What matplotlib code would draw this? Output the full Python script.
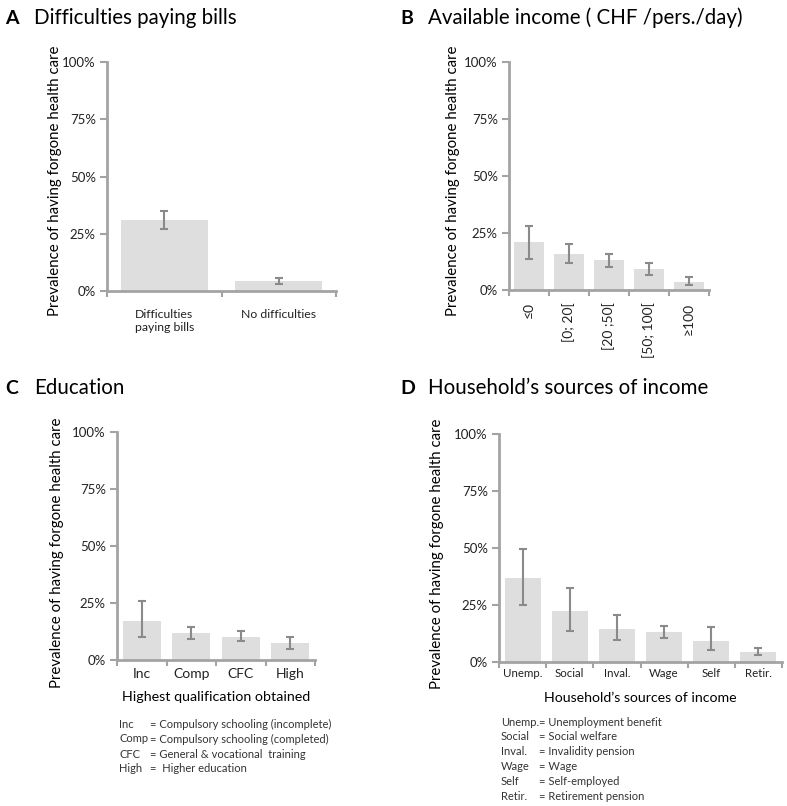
import matplotlib
matplotlib.use('Agg')
from matplotlib import pyplot as plt
from matplotlib.ticker import FixedLocator
import numpy as np

plt.rcParams['font.family'] = ['Lato', 'DejaVu Sans']

# %% Data (in %)

bills_labels = ['Difficulties\npaying bills', 'No difficulties']
bills_val = [31, 4.4]
bills_lo = [27, 3]
bills_hi = [35, 5.7]

income_labels = ['≤0', '[0; 20[', '[20 ;50[', '[50; 100[', '≥100']
income_val = [21, 16, 13, 9, 3.5]
income_lo = [13.6, 12, 10, 6.5, 2]
income_hi = [28, 20, 16, 12, 5.7]

edu_labels = ['Inc', 'Comp', 'CFC', 'High']
edu_val = [17, 12, 10, 7.3]
edu_lo = [10, 9, 8.5, 5]
edu_hi = [26, 14.5, 12.7, 10]

src_labels = ['Unemp.', 'Social', 'Inval.', 'Wage', 'Self', 'Retir.']
src_val = [37, 22.4, 14.5, 13, 9.2, 4.4]
src_lo = [25, 13.6, 9.6, 10.5, 5.3, 3.1]
src_hi = [49.6, 32.5, 20.6, 15.8, 15.4, 6.1]

edu_abbr = ['Inc', 'Comp', 'CFC', 'High']
edu_desc = ['= Compulsory schooling (incomplete)', '= Compulsory schooling (completed)',
            '= General & vocational  training', '=  Higher education']
src_abbr = ['Unemp.', 'Social', 'Inval.', 'Wage', 'Self', 'Retir.']
src_desc = ['= Unemployment benefit', '= Social welfare', '= Invalidity pension',
            '= Wage', '= Self-employed', '= Retirement pension']

# %% Figure

W, H = 787, 806
fig = plt.figure(figsize=(W/100, H/100), dpi=100)

def box(l, t, r, b):
    return [l/W, 1-b/H, (r-l)/W, (b-t)/H]

def ftext(x, y, s, **kw):
    fig.text(x/W, 1-y/H, s, **kw)

bar_col = '#dedede'
ax_col = '#a3a3a3'
err_col = '#8a8a8a'
txt_col = '#222222'

def panel(rect, labels, val, lo, hi, lab_xy, rot=0, fs=9.5, pad=6):
    ax = fig.add_axes(box(*rect))
    x = np.arange(len(val))
    val = np.array(val); lo = np.array(lo); hi = np.array(hi)
    ax.bar(x, val, width=0.76, color=bar_col)
    ax.errorbar(x, val, yerr=[val-lo, hi-val], fmt='none', ecolor=err_col,
                elinewidth=1.5, capsize=3, capthick=1.5)
    ax.set_xlim(-0.5, len(val)-0.5)
    ax.set_ylim(0, 100)
    ax.set_yticks([0, 25, 50, 75, 100])
    ax.set_yticklabels(['0%', '25%', '50%', '75%', '100%'], fontsize=9.5, color=txt_col)
    ax.set_xticks(x)
    ax.set_xticklabels(labels, fontsize=fs, rotation=rot, color=txt_col,
                       va='top', ha='center')
    ax.xaxis.set_minor_locator(FixedLocator(np.arange(len(val)+1)-0.5))
    ax.tick_params(axis='x', which='major', length=0, pad=pad)
    ax.tick_params(axis='x', which='minor', length=4, width=1.5, color=ax_col)
    ax.tick_params(axis='y', length=5, width=1.5, color=ax_col, pad=3)
    for s in ['top', 'right']:
        ax.spines[s].set_visible(False)
    for s in ['left', 'bottom']:
        ax.spines[s].set_color(ax_col)
        ax.spines[s].set_linewidth(2)
    ax.set_ylabel('Prevalence of having forgone health care', fontsize=10.8, va='center')
    # label centre given in pixels
    l, t, r, b = rect
    ax.yaxis.set_label_coords((lab_xy[0]-l)/(r-l), (b-lab_xy[1])/(b-t))
    ax.patch.set_alpha(0)
    return ax

# A
axA = panel((107, 62, 336, 291), bills_labels, bills_val, bills_lo, bills_hi,
            (55, 181), fs=8.8, pad=13)
ftext(5, 18, 'A', fontsize=14, fontweight='bold', va='center')
ftext(34, 18, 'Difficulties paying bills', fontsize=14.8, va='center')

# B
axB = panel((509, 62, 709, 290), income_labels, income_val, income_lo, income_hi,
            (453, 181), rot=90, fs=10, pad=9)
ftext(400, 18, 'B', fontsize=14, fontweight='bold', va='center')
ftext(428, 18, 'Available income ( CHF /pers./day)', fontsize=14.8, va='center')

# C
axC = panel((117, 432, 315, 660), edu_labels, edu_val, edu_lo, edu_hi,
            (57, 553), fs=10, pad=6)
axC.set_xlabel('Highest qualification obtained', fontsize=10.3, labelpad=8)
ftext(5, 388, 'C', fontsize=14, fontweight='bold', va='center')
ftext(34, 388, 'Education', fontsize=14.8, va='center')
for i, (a, d) in enumerate(zip(edu_abbr, edu_desc)):
    ftext(119, 724 + i*15, a, fontsize=8, color='#333333', va='center')
    ftext(150, 724 + i*15, d, fontsize=8, color='#333333', va='center')

# D
axD = panel((499, 434, 782, 662), src_labels, src_val, src_lo, src_hi,
            (437, 554), fs=8.3, pad=4)
axD.set_xlabel('Household\u2019s sources of income', fontsize=10.2, labelpad=10)
ftext(400, 388, 'D', fontsize=14, fontweight='bold', va='center')
ftext(428, 388, 'Household\u2019s sources of income', fontsize=14.8, va='center')
for i, (a, d) in enumerate(zip(src_abbr, src_desc)):
    ftext(501, 722 + i*14.8, a, fontsize=8, color='#333333', va='center')
    ftext(539, 722 + i*14.8, d, fontsize=8, color='#333333', va='center')

fig.savefig('out.png', dpi=100)
